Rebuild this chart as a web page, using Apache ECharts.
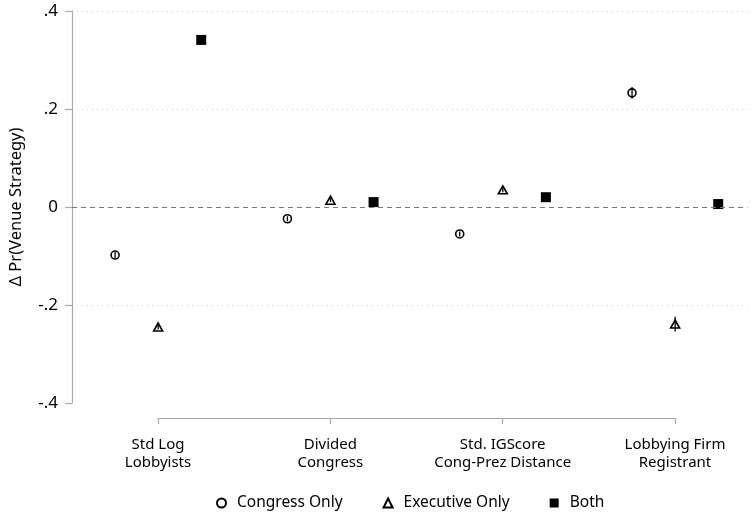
<!DOCTYPE html>
<html><head><meta charset="utf-8">
<script src="https://cdn.jsdelivr.net/npm/echarts@6/dist/echarts.min.js"></script>
<style>html,body{margin:0;padding:0;background:#fff}#c{width:755px;height:512px}</style>
</head><body><div id="c"></div>
<script>
const categories = ['Std Log\nLobbyists', 'Divided\nCongress', 'Std. IGScore\nCong-Prez Distance', 'Lobbying Firm\nRegistrant'];
const congressOnly = [-0.098, -0.024, -0.055, 0.233];
const congressLo = [-0.104, -0.029, -0.060, 0.221];
const congressHi = [-0.092, -0.019, -0.050, 0.245];
const executiveOnly = [-0.245, 0.014, 0.035, -0.239];
const executiveLo = [-0.250, 0.010, 0.030, -0.254];
const executiveHi = [-0.240, 0.018, 0.040, -0.224];
const both = [0.341, 0.010, 0.020, 0.006];
const bothLo = [0.337, 0.006, 0.016, 0.002];
const bothHi = [0.345, 0.014, 0.024, 0.010];
const yTicks = [-0.4, -0.2, 0, 0.2, 0.4];
const yTickLabels = ['-.4', '-.2', '0', '.2', '.4'];

const FONT = 'Noto Sans';
const offsets = [-0.25, 0, 0.25];
function pts(vals, k) { return vals.map((v, i) => [i + 1 + offsets[k], v]); }
function ci(lo, hi, k) { return lo.map((l, i) => [i + 1 + offsets[k], l, hi[i]]); }

function errRender(params, api) {
  const x = api.value(0);
  const p1 = api.coord([x, api.value(1)]);
  const p2 = api.coord([x, api.value(2)]);
  return { type: 'line', shape: { x1: p1[0], y1: p1[1], x2: p2[0], y2: p2[1] },
           style: { stroke: '#000', lineWidth: 1.3 } };
}

const chart = echarts.init(document.getElementById('c'), null, { renderer: 'canvas' });
chart.setOption({
  animation: false,
  textStyle: { fontFamily: FONT },
  grid: [
    { left: 72, top: 11, width: 675.5, height: 392 },
    { left: 158, top: 417, width: 517, height: 1 }
  ],
  xAxis: [
    { gridIndex: 0, type: 'value', min: 0.5, max: 4.42, show: false, splitLine: { show: false } },
    { gridIndex: 1, type: 'value', min: 1, max: 4, interval: 1, position: 'bottom',
      axisLine: { show: true, lineStyle: { color: '#aaa', width: 1.2 } },
      axisTick: { show: true, length: 6, lineStyle: { color: '#aaa', width: 1.2 } },
      splitLine: { show: false },
      axisLabel: { show: true, color: '#000', fontSize: 15, fontFamily: FONT, lineHeight: 18,
                   margin: 18, formatter: v => categories[Math.round(v) - 1] || '' } }
  ],
  yAxis: [
    { gridIndex: 0, type: 'value', min: -0.4, max: 0.4, interval: 0.2,
      axisLine: { show: true, lineStyle: { color: '#aaa', width: 1.2 } },
      axisTick: { show: true, length: 7, lineStyle: { color: '#aaa', width: 1.2 } },
      axisLabel: { color: '#000', fontSize: 17, fontFamily: FONT, margin: 14,
                   formatter: v => { const i = yTicks.findIndex(t => Math.abs(t - v) < 1e-9); return i >= 0 ? yTickLabels[i] : ''; } },
      splitLine: { show: true, lineStyle: { type: [1, 4], width: 1,
                   color: ['rgba(0,0,0,0)', '#ccc', 'rgba(0,0,0,0)', '#ccc', '#ccc'] } },
      name: 'Δ Pr(Venue Strategy)', nameLocation: 'middle', nameGap: 47,
      nameTextStyle: { color: '#000', fontSize: 16.5, fontFamily: FONT } },
    { gridIndex: 1, type: 'value', show: false }
  ],
  legend: {
    top: 490, left: 211, itemGap: 40, itemWidth: 9, itemHeight: 9,
    textStyle: { color: '#000', fontSize: 15.5, fontFamily: FONT, padding: [0, 0, 0, 6] },
    data: ['Congress Only', 'Executive Only', 'Both']
  },
  series: [
    { type: 'line', xAxisIndex: 0, yAxisIndex: 0, data: [], symbol: 'none',
      markLine: { silent: true, symbol: 'none', label: { show: false },
        lineStyle: { color: '#777', type: [5, 4], width: 1.2 }, data: [{ yAxis: 0 }] } },
    { type: 'custom', xAxisIndex: 0, yAxisIndex: 0, renderItem: errRender, data: ci(congressLo, congressHi, 0), z: 1 },
    { type: 'custom', xAxisIndex: 0, yAxisIndex: 0, renderItem: errRender, data: ci(executiveLo, executiveHi, 1), z: 1 },
    { type: 'custom', xAxisIndex: 0, yAxisIndex: 0, renderItem: errRender, data: ci(bothLo, bothHi, 2), z: 1 },
    { name: 'Congress Only', type: 'scatter', xAxisIndex: 0, yAxisIndex: 0, symbol: 'circle', symbolSize: 8,
      itemStyle: { color: 'rgba(255,255,255,0)', borderColor: '#000', borderWidth: 1.6, opacity: 1 }, data: pts(congressOnly, 0), z: 3 },
    { name: 'Executive Only', type: 'scatter', xAxisIndex: 0, yAxisIndex: 0, symbol: 'triangle', symbolSize: [9, 8],
      itemStyle: { color: 'rgba(255,255,255,0)', borderColor: '#000', borderWidth: 1.6, opacity: 1 }, data: pts(executiveOnly, 1), z: 3 },
    { name: 'Both', type: 'scatter', xAxisIndex: 0, yAxisIndex: 0, symbol: 'rect', symbolSize: 10,
      itemStyle: { color: '#000', opacity: 1 }, data: pts(both, 2), z: 3 }
  ]
});
</script></body></html>
